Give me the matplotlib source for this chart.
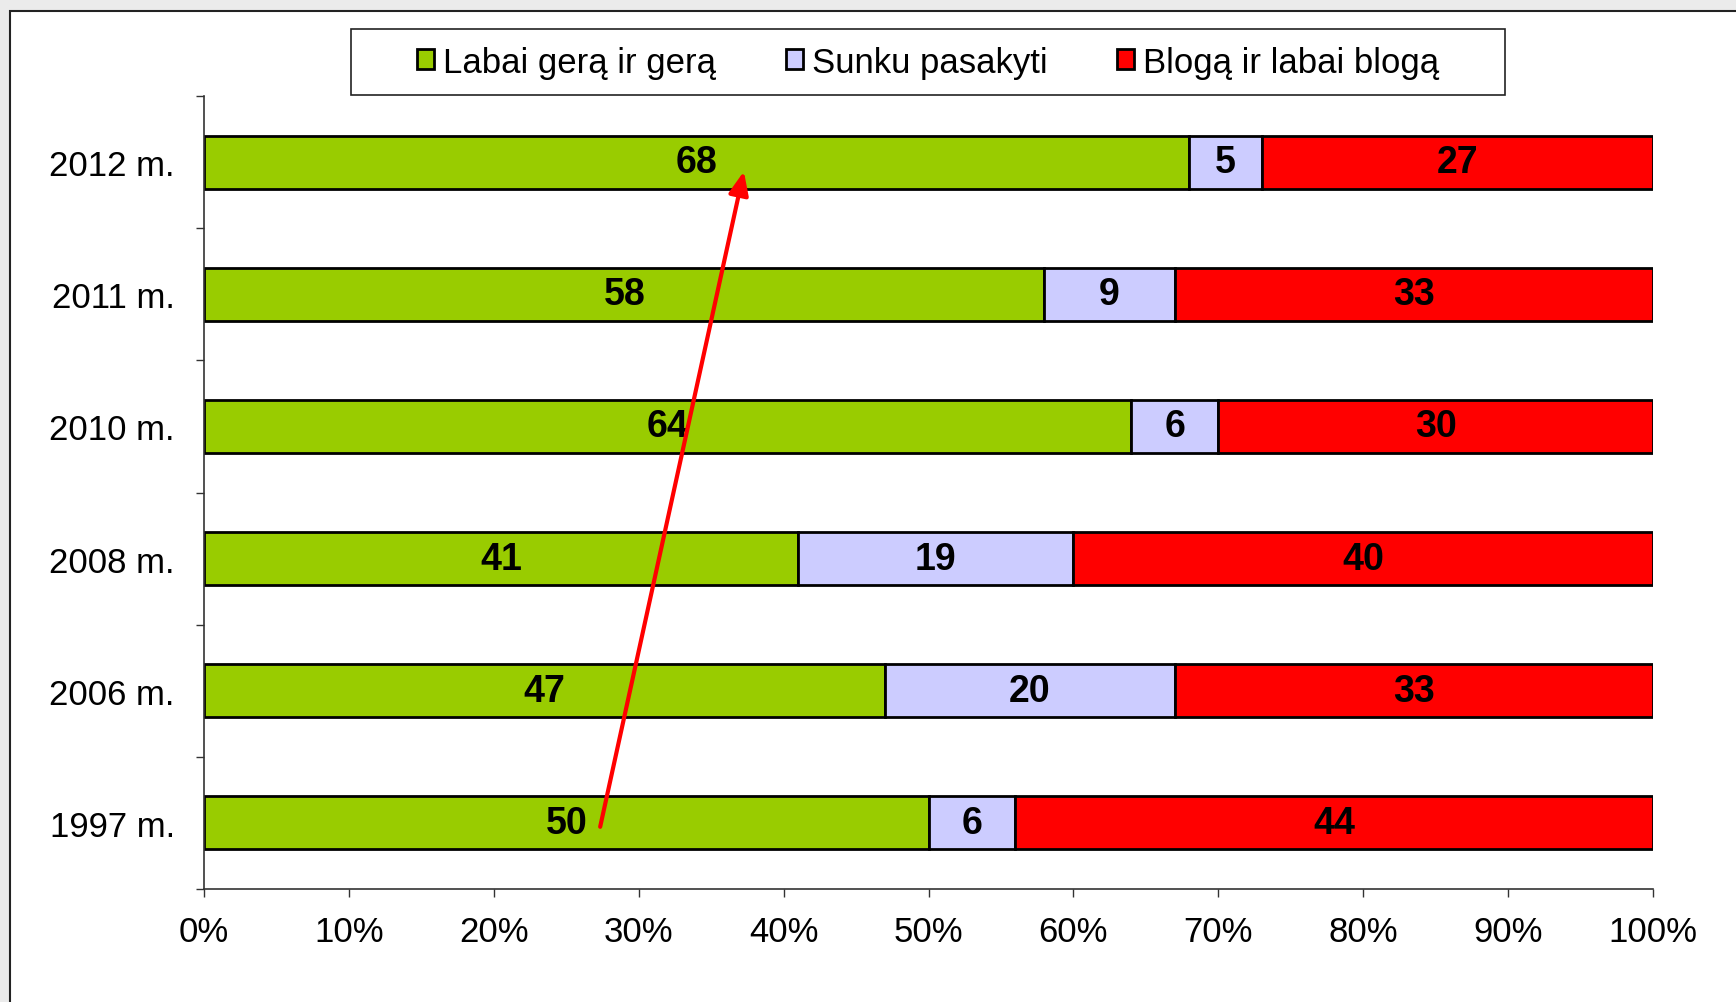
import matplotlib
matplotlib.use("Agg")
import matplotlib.pyplot as plt
from matplotlib.patches import Rectangle, FancyArrowPatch
import numpy as np

years = ["1997 m.", "2006 m.", "2008 m.", "2010 m.", "2011 m.", "2012 m."]
good = [50, 47, 41, 64, 58, 68]
hard = [6, 20, 19, 6, 9, 5]
bad = [44, 33, 40, 30, 33, 27]
series_names = ["Labai gerą ir gerą", "Sunku pasakyti", "Blogą ir labai blogą"]
colors = ["#99CC00", "#CCCCFF", "#FF0000"]
xticks = [0, 10, 20, 30, 40, 50, 60, 70, 80, 90, 100]
xticklabels = [f"{v}%" for v in xticks]
arrow_start = (27.3, -0.05)
arrow_end = (37.3, 4.95)

plt.rcParams['font.family'] = ['Liberation Sans Narrow', 'Liberation Sans', 'DejaVu Sans']

W, H = 1736, 1003
fig = plt.figure(figsize=(W / 100, H / 100), dpi=100, facecolor="#ebebeb")

# white panel with frame
fig.patches.append(Rectangle((10 / W, -0.1), 1.2, 1 - 12 / H + 0.1, transform=fig.transFigure,
                             facecolor="white", edgecolor="#222222", lw=1.5, zorder=-5))
# legend box
fig.patches.append(Rectangle((351 / W, 1 - 96 / H), (1505 - 351) / W, 66 / H,
                             transform=fig.transFigure, facecolor="white",
                             edgecolor="#222222", lw=1.2, zorder=-4))

ax = fig.add_axes([204 / W, 1 - 890 / H, (1653 - 204) / W, (890 - 97) / H])
ax.set_facecolor("none")
ax.set_zorder(1)

y = np.arange(len(years))
data = [good, hard, bad]
left = np.zeros(len(years))
for vals, col, name in zip(data, colors, series_names):
    vals = np.array(vals, dtype=float)
    ax.barh(y, vals, left=left, height=0.4, color=col, edgecolor="black",
            linewidth=2, label=name, zorder=2)
    for yi, l, v in zip(y, left, vals):
        ax.text(l + v / 2, yi, f"{int(v)}", ha="center", va="center",
                fontsize=27, fontweight="bold", color="black", zorder=4)
    left += vals

ax.set_xlim(0, 100)
ax.set_ylim(-0.5, len(years) - 0.5)
ax.set_xticks(xticks)
ax.set_xticklabels(xticklabels, fontsize=25)
ax.set_yticks(y)
ax.set_yticklabels(years, fontsize=25)
ax.set_yticks(np.arange(-0.5, len(years), 1.0), minor=True)
ax.tick_params(axis="y", which="major", length=0, pad=21)
ax.tick_params(axis="y", which="minor", length=6, width=1, direction="out", color="#333333")
ax.tick_params(axis="x", which="major", length=6, width=1, direction="out", pad=13, color="#333333")

for s in ["top", "right"]:
    ax.spines[s].set_visible(False)
for s in ["left", "bottom"]:
    ax.spines[s].set_linewidth(1.2)
    ax.spines[s].set_color("#333333")

# red arrow
arr = FancyArrowPatch(arrow_start, arrow_end, arrowstyle="-|>,head_length=0.7,head_width=0.3",
                      mutation_scale=20, color="#FF0000", lw=3, zorder=5)
ax.add_patch(arr)

handles, labels = ax.get_legend_handles_labels()
leg = fig.legend(handles, labels, loc="center", bbox_to_anchor=(928 / W, 1 - 63 / H),
                 ncol=3, frameon=False, fontsize=25, handlelength=0.5, handleheight=0.5,
                 handletextpad=0.25, columnspacing=2.0)
for h in leg.legend_handles:
    h.set_linewidth(2)

fig.savefig("out.png", dpi=100, facecolor=fig.get_facecolor())
